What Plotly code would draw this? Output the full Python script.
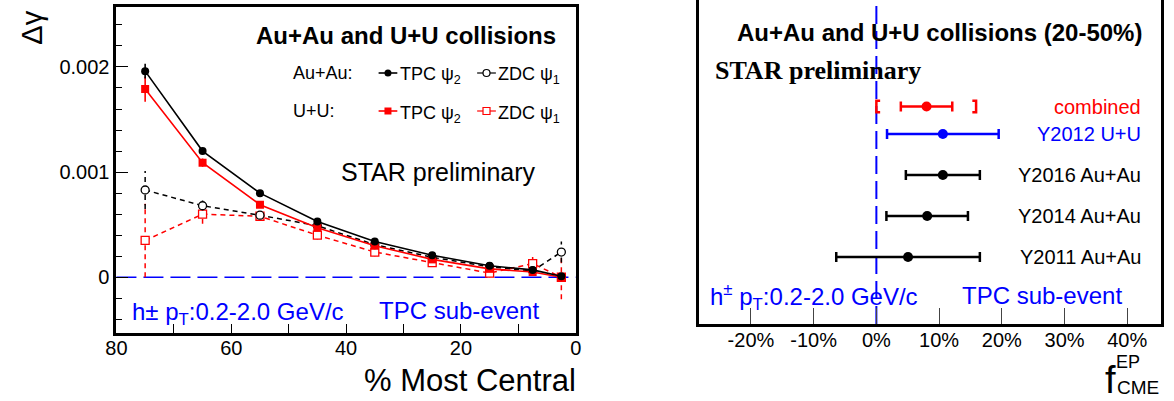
import plotly.graph_objects as go

W, H = 1174, 401

# ---------------- left panel: Delta gamma vs centrality ----------------
cent = [75, 65, 55, 45, 35, 25, 15, 7.5, 2.5]
auau_tpc = [0.00196, 0.00120, 0.00080, 0.00053, 0.00034, 0.00021, 0.00011, 0.00007, 0.00001]
auau_tpc_err = [0.00007, 0.00003, 0.00002, 0.00002, 0.00002, 0.00002, 0.00002, 0.00002, 0.00003]
uu_tpc = [0.00179, 0.00109, 0.00069, 0.00047, 0.00030, 0.00017, 0.00008, 0.00005, 0.00000]
uu_tpc_err = [0.00012, 0.00004, 0.00003, 0.00002, 0.00002, 0.00002, 0.00002, 0.00002, 0.00004]
auau_zdc = [0.00083, 0.00068, 0.00059, 0.00049, 0.00031, 0.00019, 0.00010, 0.00006, 0.00024]
auau_zdc_err = [0.00018, 0.00005, 0.00003, 0.00003, 0.00003, 0.00003, 0.00003, 0.00004, 0.00010]
uu_zdc = [0.00035, 0.00060, 0.00058, 0.00040, 0.00024, 0.00014, 0.00004, 0.00013, 0.00000]
uu_zdc_err = [0.00035, 0.00009, 0.00004, 0.00004, 0.00004, 0.00004, 0.00004, 0.00007, 0.00021]

cent_ticks = [80, 60, 40, 20, 0]
cent_ticktext = ["80", "60", "40", "20", "0"]
cent_minor = [70, 50, 30, 10]
dg_ticks = [0, 0.001, 0.002]
dg_ticktext = ["0", "0.001", "0.002"]

# ---------------- right panel: f_CME by dataset ----------------
datasets = ["combined", "Y2012 U+U", "Y2016 Au+Au", "Y2014 Au+Au", "Y2011 Au+Au"]
f_cme = [8.0, 10.6, 10.6, 8.1, 5.05]
f_cme_err = [4.1, 8.9, 5.9, 6.5, 11.45]
combined_sys = [0.0, 15.9]
dataset_colors = ["#ff0000", "#0000ff", "#000000", "#000000", "#000000"]

f_ticks = [-20, -10, 0, 10, 20, 30, 40]
f_ticktext = ["-20%", "-10%", "0%", "10%", "20%", "30%", "40%"]

# vertical placement of the dataset rows
row_pos = [4.67, 4, 3, 2, 1]

FONT = "Liberation Sans"
SERIF = "Liberation Serif"


def px(x, y):
    return x / W, 1 - y / H


fig = go.Figure()


def dashed_errors(xs, ys, es, color):
    ex, ey = [], []
    for x, y, e in zip(xs, ys, es):
        ex += [x, x, None]
        ey += [y - e, y + e, None]
    return go.Scatter(x=ex, y=ey, mode="lines", xaxis="x", yaxis="y",
                      line=dict(color=color, width=1.5, dash="5px,4px"),
                      hoverinfo="skip", showlegend=False)


# ZDC event-plane results (dashed)
fig.add_trace(dashed_errors(cent, uu_zdc, uu_zdc_err, "#ff0000"))
fig.add_trace(dashed_errors(cent, auau_zdc, auau_zdc_err, "#000000"))
fig.add_trace(go.Scatter(x=cent, y=uu_zdc, mode="lines+markers", xaxis="x", yaxis="y",
                         line=dict(color="#ff0000", width=1.5, dash="5px,4px"),
                         marker=dict(symbol="square", size=8, color="white",
                                     line=dict(width=1.3, color="#ff0000")),
                         showlegend=False))
fig.add_trace(go.Scatter(x=cent, y=auau_zdc, mode="lines+markers", xaxis="x", yaxis="y",
                         line=dict(color="#000000", width=1.5, dash="5px,4px"),
                         marker=dict(symbol="circle", size=8, color="white",
                                     line=dict(width=1.3, color="#000000")),
                         showlegend=False))
# TPC event-plane results (solid)
fig.add_trace(go.Scatter(x=cent, y=uu_tpc, mode="lines+markers", xaxis="x", yaxis="y",
                         line=dict(color="#ff0000", width=1.6),
                         marker=dict(symbol="square", size=8, color="#ff0000"),
                         error_y=dict(type="data", array=uu_tpc_err, color="#ff0000",
                                      thickness=1.6, width=0),
                         showlegend=False))
fig.add_trace(go.Scatter(x=cent, y=auau_tpc, mode="lines+markers", xaxis="x", yaxis="y",
                         line=dict(color="#000000", width=1.6),
                         marker=dict(symbol="circle", size=8, color="#000000"),
                         error_y=dict(type="data", array=auau_tpc_err, color="#000000",
                                      thickness=1.6, width=0),
                         showlegend=False))

# right panel points with statistical errors
for name, v, e, c, yp in zip(datasets, f_cme, f_cme_err, dataset_colors, row_pos):
    fig.add_trace(go.Scatter(x=[v], y=[yp], mode="markers", xaxis="x2", yaxis="y2",
                             marker=dict(symbol="circle", size=10, color=c),
                             error_x=dict(type="data", array=[e], color=c,
                                          thickness=2.5, width=5),
                             name=name, showlegend=False))

# systematic brackets of the combined result
half_h, arm = 0.14, 0.6
lo, hi = combined_sys
yc = row_pos[0]
fig.add_trace(go.Scatter(
    x=[lo + arm, lo, lo, lo + arm, None, hi - arm, hi, hi, hi - arm],
    y=[yc + half_h, yc + half_h, yc - half_h, yc - half_h, None,
       yc + half_h, yc + half_h, yc - half_h, yc - half_h],
    mode="lines", xaxis="x2", yaxis="y2",
    line=dict(color="#ff0000", width=2.5), hoverinfo="skip", showlegend=False))

# legend samples drawn on a full-page pixel overlay
leg_rows = [(73, "#000000", "circle"), (111, "#ff0000", "square")]
for yy, col, sym in leg_rows:
    fig.add_trace(go.Scatter(x=[373, 392], y=[yy, yy], mode="lines", xaxis="x4", yaxis="y4",
                             line=dict(color=col, width=1.6), showlegend=False, hoverinfo="skip"))
    fig.add_trace(go.Scatter(x=[382.5], y=[yy], mode="markers", xaxis="x4", yaxis="y4",
                             marker=dict(symbol=sym, size=7, color=col),
                             showlegend=False, hoverinfo="skip"))
    fig.add_trace(go.Scatter(x=[473, 492], y=[yy, yy], mode="lines", xaxis="x4", yaxis="y4",
                             line=dict(color=col, width=1.2), showlegend=False, hoverinfo="skip"))
    fig.add_trace(go.Scatter(x=[482.5], y=[yy], mode="markers", xaxis="x4", yaxis="y4",
                             marker=dict(symbol=sym, size=7, color="white",
                                         line=dict(width=1.2, color=col)),
                             showlegend=False, hoverinfo="skip"))

fig.update_layout(
    width=W, height=H, autosize=False,
    margin=dict(l=0, r=0, t=0, b=0),
    paper_bgcolor="white", plot_bgcolor="rgba(0,0,0,0)",
    font=dict(family=FONT, color="black"),
    xaxis=dict(domain=[107 / W, 573 / W], range=[80, 0], anchor="y",
               tickvals=cent_ticks, ticktext=cent_ticktext,
               ticks="inside", ticklen=9, tickwidth=1, tickcolor="black",
               ticklabelstandoff=-5,
               minor=dict(tickvals=cent_minor, ticks="inside", ticklen=9, tickwidth=1,
                          tickcolor="black", showgrid=False),
               showline=True, linewidth=3, linecolor="black", mirror=True,
               showgrid=False, zeroline=False, tickfont=dict(size=20)),
    yaxis=dict(domain=[(H - 333) / H, (H - 7) / H], range=[-0.00053, 0.00257], anchor="x",
               tickvals=dg_ticks, ticktext=dg_ticktext,
               ticks="inside", ticklen=12, tickwidth=1, tickcolor="black",
               minor=dict(dtick=0.0002, tick0=0, ticks="inside", ticklen=6, tickwidth=1,
                          tickcolor="black", showgrid=False),
               showline=True, linewidth=3, linecolor="black", mirror=True,
               showgrid=False, zeroline=False, tickfont=dict(size=20)),
    xaxis2=dict(domain=[698 / W, 1167 / W], range=[-28.3, 45.4], anchor="y2",
                tickvals=f_ticks, ticktext=f_ticktext,
                ticks="inside", ticklen=16, tickwidth=1, tickcolor="#444",
                ticklabelstandoff=-4,
                showline=True, linewidth=3, linecolor="black", mirror=False,
                showgrid=False, zeroline=False, tickfont=dict(size=20)),
    yaxis2=dict(domain=[(H - 324) / H, 1.0], range=[-0.634, 7.27], anchor="x2",
                showticklabels=False, ticks="",
                showline=True, linewidth=3, linecolor="black", mirror=True,
                showgrid=False, zeroline=False),
    xaxis3=dict(overlaying="x2", anchor="y2", side="top", range=[-28.3, 45.4],
                tickvals=f_ticks, ticks="inside", ticklen=15, tickwidth=1, tickcolor="#444",
                showticklabels=False, showline=False, showgrid=False, zeroline=False),
    xaxis4=dict(domain=[0, 1], range=[0, W], anchor="y4", visible=False),
    yaxis4=dict(domain=[0, 1], range=[H, 0], anchor="x4", visible=False),
)

# reference lines at zero
fig.add_shape(type="line", xref="x domain", yref="y", x0=0, x1=1, y0=0, y1=0,
              line=dict(color="#0000ff", width=1.5, dash="20px,7px"), layer="below")
fig.add_shape(type="line", xref="x2", yref="y2 domain", x0=0, x1=0, y0=0, y1=1,
              line=dict(color="#0000ff", width=2, dash="18px,7px"), layer="below")


def note(text, x, y, size, xanchor="left", color="black", family=FONT, bold=False, angle=0):
    ax, ay = px(x, y)
    if bold:
        text = "<b>" + text + "</b>"
    fig.add_annotation(text=text, x=ax, y=ay, xref="paper", yref="paper",
                       xanchor=xanchor, yanchor="middle", showarrow=False,
                       textangle=angle, borderpad=0,
                       font=dict(size=size, color=color, family=family))


# left panel texts
note("Δγ", 21, 28, 29, xanchor="center", angle=-90)
note("Au+Au and U+U collisions", 248, 35, 24, bold=True)
note("Au+Au:", 285, 73, 18)
note("U+U:", 285, 111, 18)
note("TPC ψ<sub>2</sub>", 394, 76, 18)
note("ZDC ψ<sub>1</sub>", 493, 76, 18)
note("TPC ψ<sub>2</sub>", 394, 114, 18)
note("ZDC ψ<sub>1</sub>", 493, 114, 18)
note("STAR preliminary", 334, 172, 25)
note("h± p<sub>T</sub>:0.2-2.0 GeV/c", 122, 313, 24, color="#0000ff")
note("TPC sub-event", 372, 310, 24, color="#0000ff")
note("% Most Central", 574, 380, 31, xanchor="right")

# right panel texts
note("Au+Au and U+U collisions (20-50%)", 736, 32, 24, bold=True)
note("STAR preliminary", 713, 70, 26, family=SERIF, bold=True)
for name, c, yp in zip(datasets, dataset_colors, row_pos):
    fig.add_annotation(text=name, x=0.96, y=yp, xref="x2 domain", yref="y2",
                       xanchor="right", yanchor="middle", showarrow=False,
                       font=dict(size=20, color=c, family=FONT))
note("h<sup>±</sup> p<sub>T</sub>:0.2-2.0 GeV/c", 708, 297, 24, color="#0000ff")
note("TPC sub-event", 964, 295, 24, color="#0000ff")
note("f", 1109, 380, 38)
note("EP", 1120, 362, 18)
note("CME", 1121, 387, 19)

fig.write_html("out.html")
